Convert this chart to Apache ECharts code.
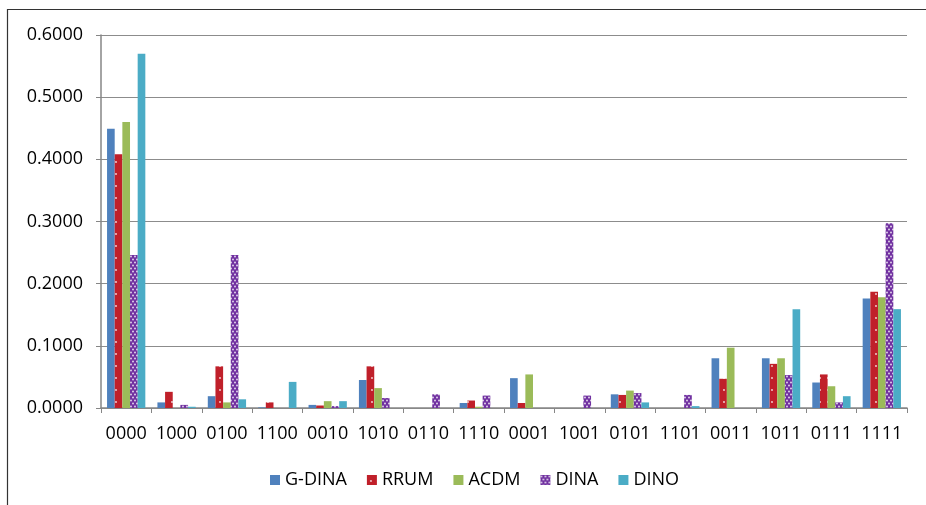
<!DOCTYPE html>
<html>
<head>
<meta charset="utf-8">
<script src="https://cdn.jsdelivr.net/npm/echarts@6/dist/echarts.min.js"></script>
<style>
  html, body { margin: 0; padding: 0; background: #fff; }
  #chart { width: 926px; height: 505px; }
</style>
</head>
<body>
<div id="chart"></div>
<script>
// Attribute profiles (x axis)
const categories = ['0000', '1000', '0100', '1100', '0010', '1010', '0110', '1110',
                    '0001', '1001', '0101', '1101', '0011', '1011', '0111', '1111'];

// Estimated proportions per model
const gdina = [0.449, 0.009, 0.019, 0.001, 0.005, 0.045, 0.000, 0.008,
               0.048, 0.000, 0.022, 0.000, 0.080, 0.080, 0.041, 0.176];
const rrum  = [0.408, 0.026, 0.067, 0.009, 0.004, 0.067, 0.000, 0.012,
               0.008, 0.000, 0.021, 0.000, 0.047, 0.071, 0.054, 0.187];
const acdm  = [0.460, 0.000, 0.009, 0.000, 0.011, 0.032, 0.000, 0.002,
               0.054, 0.000, 0.028, 0.000, 0.097, 0.080, 0.035, 0.178];
const dina  = [0.246, 0.005, 0.246, 0.000, 0.003, 0.016, 0.022, 0.020,
               0.000, 0.020, 0.024, 0.021, 0.000, 0.053, 0.009, 0.297];
const dino  = [0.570, 0.002, 0.014, 0.042, 0.011, 0.000, 0.000, 0.000,
               0.000, 0.000, 0.009, 0.003, 0.000, 0.159, 0.019, 0.159];

const seriesNames = ['G-DINA', 'RRUM', 'ACDM', 'DINA', 'DINO'];
const seriesData = [gdina, rrum, acdm, dina, dino];

// Dotted fill tiles
function dotTile(w, h, bg, dots, r, dotColor) {
  const c = document.createElement('canvas');
  c.width = w; c.height = h;
  const ctx = c.getContext('2d');
  ctx.fillStyle = bg;
  ctx.fillRect(0, 0, w, h);
  ctx.fillStyle = dotColor;
  dots.forEach(([x, y]) => {
    ctx.beginPath();
    ctx.arc(x, y, r, 0, Math.PI * 2);
    ctx.fill();
  });
  return { image: c, repeat: 'repeat' };
}

const redDots = dotTile(8, 12, '#C0202A', [[4, 6]], 0.9, 'rgba(255,255,255,0.85)');
const purpleDots = dotTile(4, 6, '#7030A0', [[1, 1.5], [3, 4.5]], 0.9, 'rgba(255,255,255,0.85)');

const fills = ['#4F81BD', redDots, '#9BBB59', purpleDots, '#4BACC6'];

const font = '"Open Sans", "Noto Sans", sans-serif';

const chart = echarts.init(document.getElementById('chart'), null, { renderer: 'canvas' });

chart.setOption({
  animation: false,
  backgroundColor: '#fff',
  textStyle: { fontFamily: font },
  graphic: [{
    type: 'rect',
    left: 5, top: 7,
    shape: { width: 940, height: 520 },
    style: { fill: 'none', stroke: '#333', lineWidth: 1.2 },
    silent: true,
    z: -1
  }],
  grid: { left: 101, right: 19, top: 35, bottom: 97 },
  legend: {
    left: 265,
    top: 466,
    itemWidth: 10,
    itemHeight: 10,
    itemGap: 20,
    icon: 'rect',
    textStyle: { fontFamily: font, fontSize: 18, color: '#000' },
    data: seriesNames
  },
  xAxis: {
    type: 'category',
    data: categories,
    axisLine: { lineStyle: { color: '#868686', width: 1.5 } },
    axisTick: { show: true, length: 5, lineStyle: { color: '#868686' } },
    axisLabel: { interval: 0, fontFamily: font, fontSize: 18, color: '#000', margin: 17 }
  },
  yAxis: {
    type: 'value',
    min: 0, max: 0.6, interval: 0.1,
    axisLine: { show: true, lineStyle: { color: '#868686', width: 1.5 } },
    axisTick: { show: true, length: 5, lineStyle: { color: '#868686' } },
    splitLine: { lineStyle: { color: '#8c8c8c', width: 1 } },
    axisLabel: {
      fontFamily: font, fontSize: 18, color: '#000', margin: 18,
      formatter: v => v.toFixed(4)
    }
  },
  series: seriesNames.map((name, i) => ({
    name,
    type: 'bar',
    data: seriesData[i],
    barGap: '0%',
    barCategoryGap: '24%',
    itemStyle: { color: fills[i] }
  }))
});
</script>
</body>
</html>
